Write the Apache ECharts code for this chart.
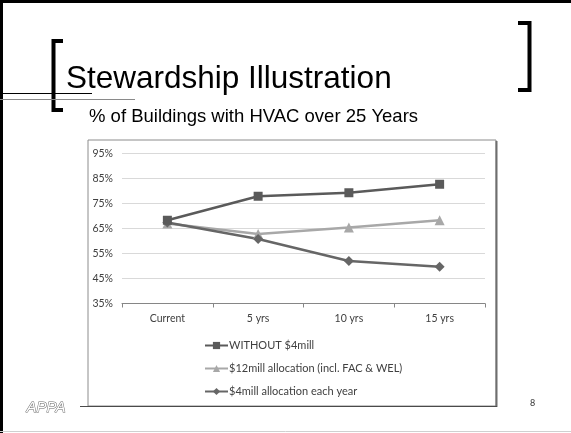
<!DOCTYPE html>
<html>
<head>
<meta charset="utf-8">
<script src="https://cdn.jsdelivr.net/npm/echarts@6/dist/echarts.min.js"></script>
<style>
html,body{margin:0;padding:0;background:#fff;}
#chart{width:571px;height:433px;}
</style>
</head>
<body>
<div id="chart"></div>
<script>
const categories = ['Current', '5 yrs', '10 yrs', '15 yrs'];
const seriesNames = ['WITHOUT $4mill', '$12mill allocation (incl. FAC & WEL)', '$4mill allocation each year'];
const withoutValues = [68.3, 77.9, 79.3, 82.7];
const twelveMillValues = [67.0, 62.8, 65.4, 68.3];
const fourMillValues = [67.4, 60.8, 52.0, 49.7];
const yTicks = {min: 35, max: 95, interval: 10};

const chart = echarts.init(document.getElementById('chart'), null, {renderer: 'canvas'});
const axisFont = 'Lato, "Open Sans", sans-serif';

chart.setOption({
  animation: false,
  backgroundColor: '#ffffff',
  title: [
    {text: 'Stewardship Illustration', left: 66, top: 63, padding: 0,
     textStyle: {fontFamily: '"Liberation Sans", Arial, sans-serif', fontSize: 31.5, fontWeight: 'normal', color: '#000'}},
    {text: '% of Buildings with HVAC over 25 Years', left: 89, top: 107, padding: 0,
     textStyle: {fontFamily: '"Liberation Sans", Arial, sans-serif', fontSize: 18.5, fontWeight: 'normal', color: '#000'}}
  ],
  graphic: [
    {type: 'rect', z: 0, shape: {x: 88, y: 140, width: 408, height: 266},
     style: {fill: '#fff', stroke: '#8c8c8c', lineWidth: 1}},
    {type: 'line', z: 1, shape: {x1: 496.5, y1: 141, x2: 496.5, y2: 407}, style: {stroke: '#6e6e6e', lineWidth: 2}},
    {type: 'line', z: 1, shape: {x1: 80, y1: 406.5, x2: 497, y2: 406.5}, style: {stroke: '#4a4a4a', lineWidth: 1}},
    {type: 'line', z: 1, shape: {x1: 1.5, y1: 0, x2: 1.5, y2: 433}, style: {stroke: '#000', lineWidth: 3}},
    {type: 'line', z: 1, shape: {x1: 0, y1: 1.5, x2: 571, y2: 1.5}, style: {stroke: '#000', lineWidth: 3}},
    {type: 'line', z: 1, shape: {x1: 0, y1: 431.5, x2: 571, y2: 431.5}, style: {stroke: '#d0d0d0', lineWidth: 1}},
    {type: 'polyline', z: 1, shape: {points: [[63, 41], [53.5, 41], [53.5, 110], [63, 110]]}, style: {stroke: '#000', lineWidth: 4, fill: null}},
    {type: 'polyline', z: 1, shape: {points: [[518, 23], [529.5, 23], [529.5, 90], [518, 90]]}, style: {stroke: '#000', lineWidth: 4, fill: null}},
    {type: 'line', z: 1, shape: {x1: 0, y1: 93.5, x2: 92, y2: 93.5}, style: {stroke: '#000', lineWidth: 1.2}},
    {type: 'line', z: 1, shape: {x1: 0, y1: 99.5, x2: 135, y2: 99.5}, style: {stroke: '#8a8a8a', lineWidth: 1}},
    {type: 'text', z: 3, left: 26, top: 400,
     style: {text: 'APPA', fontFamily: '"Liberation Sans", Arial, sans-serif', fontSize: 15, fontStyle: 'italic', fill: '#fff', stroke: '#6a6a6a', lineWidth: 1}},
    {type: 'text', z: 3, left: 530, top: 399,
     style: {text: '8', fontFamily: axisFont, fontSize: 9, fill: '#333'}}
  ],
  grid: {left: 122, right: 86, top: 153.5, bottom: 129.5, containLabel: false},
  legend: {
    orient: 'vertical', left: 199, top: 335, itemGap: 12, itemWidth: 23, itemHeight: 9,
    data: seriesNames,
    textStyle: {fontFamily: axisFont, fontSize: 11, color: '#404040', padding: [0, 0, 0, -4]}
  },
  xAxis: {
    type: 'category', data: categories, boundaryGap: true,
    axisLine: {lineStyle: {color: '#868686', width: 1}},
    axisTick: {show: true, length: 4, lineStyle: {color: '#868686'}},
    axisLabel: {fontFamily: axisFont, fontSize: 10.5, color: '#404040', margin: 10}
  },
  yAxis: {
    type: 'value', min: yTicks.min, max: yTicks.max, interval: yTicks.interval,
    axisLine: {show: false}, axisTick: {show: false},
    axisLabel: {fontFamily: axisFont, fontSize: 10.5, color: '#404040', margin: 9, formatter: v => v + '%'},
    splitLine: {lineStyle: {color: '#d9d9d9', width: 1}}
  },
  series: [
    {name: seriesNames[0], type: 'line', data: withoutValues, symbol: 'rect', symbolSize: 9,
     lineStyle: {color: '#5a5a5a', width: 2.5}, itemStyle: {color: '#5a5a5a'}, z: 4},
    {name: seriesNames[1], type: 'line', data: twelveMillValues, symbol: 'triangle', symbolSize: 10,
     lineStyle: {color: '#a8a8a8', width: 2.5}, itemStyle: {color: '#a8a8a8'}, z: 3},
    {name: seriesNames[2], type: 'line', data: fourMillValues, symbol: 'diamond', symbolSize: 10,
     lineStyle: {color: '#666666', width: 2.5}, itemStyle: {color: '#666666'}, z: 3}
  ]
});
</script>
</body>
</html>
